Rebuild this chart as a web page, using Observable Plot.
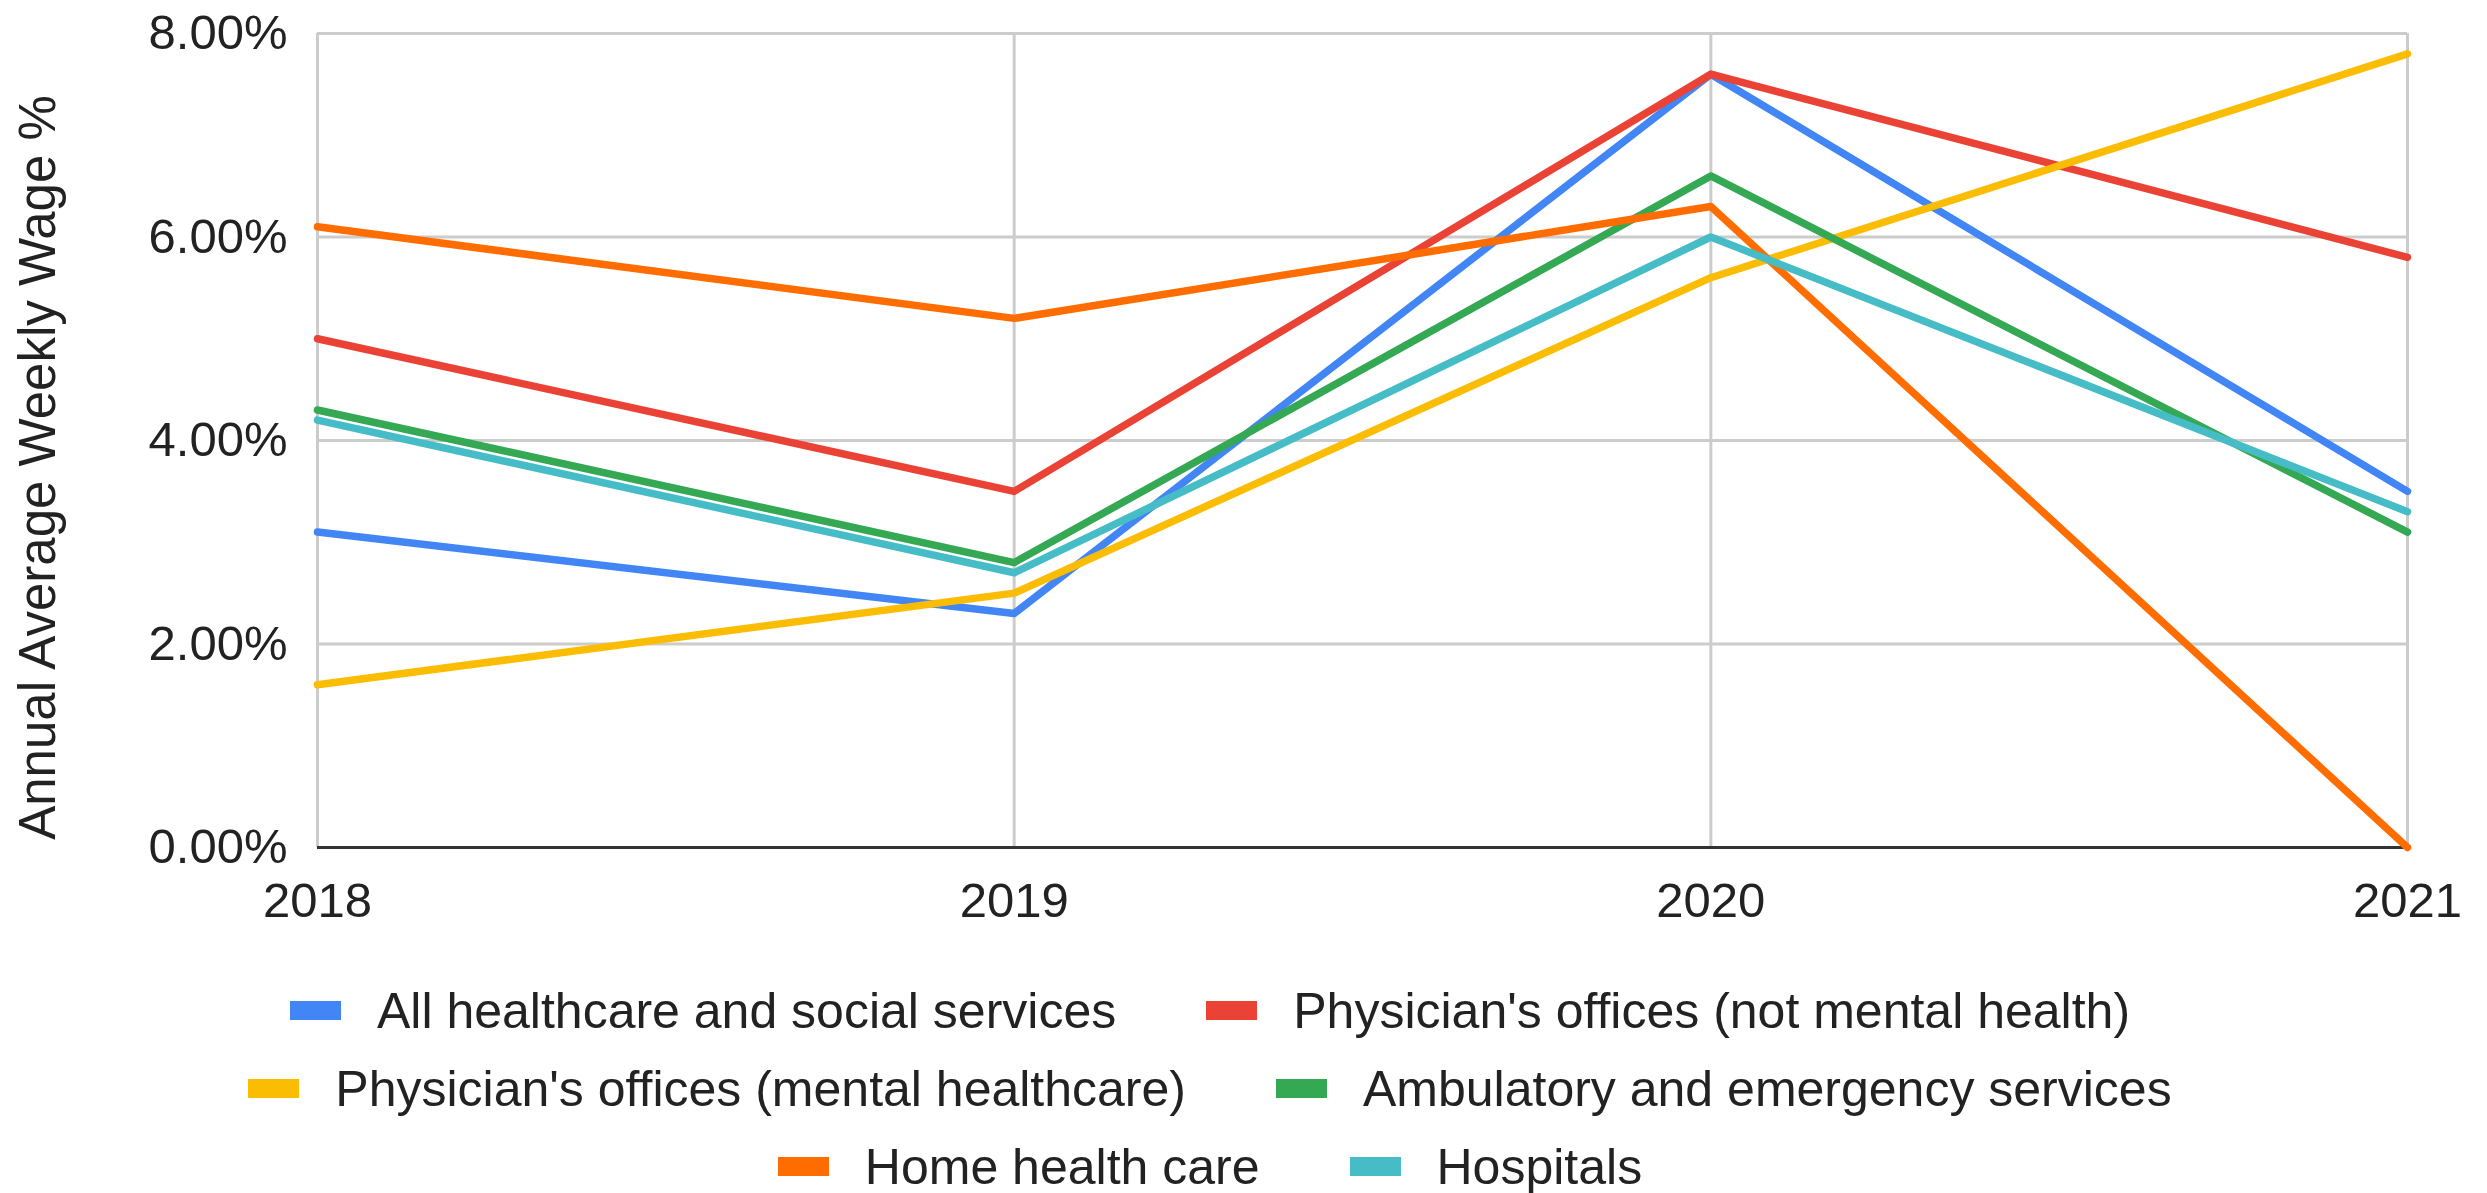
<!DOCTYPE html>
<html>
<head>
<meta charset="utf-8">
<script src="https://cdn.jsdelivr.net/npm/d3@7"></script>
<script src="https://cdn.jsdelivr.net/npm/@observablehq/plot@0.6"></script>
<style>
  html, body { margin: 0; padding: 0; background: #fff; overflow: hidden; }
  #chart { width: 2487px; }
  #chart svg { display: block; }
  .legend { width: 2420px; font-family: Arial, "Liberation Sans", sans-serif; font-size: 50px; color: #222; padding-top: 14px; }
  .legend .row { height: 78px; line-height: 78px; text-align: center; white-space: nowrap; }
  .legend .item { display: inline-flex; align-items: center; margin: 0 45px; }
  .legend .sw { display: inline-block; width: 51px; height: 19px; margin-right: 36px; }
</style>
</head>
<body>
<div id="chart"></div>
<script>
const years = [2018, 2019, 2020, 2021];
const seriesNames = [
  "All healthcare and social services",
  "Physician's offices (not mental health)",
  "Physician's offices (mental healthcare)",
  "Ambulatory and emergency services",
  "Home health care",
  "Hospitals"
];
const seriesColors = ["#4285F4", "#EA4335", "#FBBC04", "#34A853", "#FF6D01", "#46BDC6"];
const allHealthcare = [3.1, 2.3, 7.6, 3.5];
const physNotMental = [5.0, 3.5, 7.6, 5.8];
const physMental = [1.6, 2.5, 5.6, 7.8];
const ambulatory = [4.3, 2.8, 6.6, 3.1];
const homeHealth = [6.1, 5.2, 6.3, 0.0];
const hospitals = [4.2, 2.7, 6.0, 3.3];
const yTicks = [0, 2, 4, 6, 8];
const yLabel = "Annual Average Weekly Wage %";
const legendRows = [[0, 1], [2, 3], [4, 5]];

const seriesValues = [allHealthcare, physNotMental, physMental, ambulatory, homeHealth, hospitals];
const data = [];
seriesNames.forEach((name, i) => {
  years.forEach((yr, j) => data.push({series: name, year: yr, value: seriesValues[i][j]}));
});

const chart = Plot.plot({
  width: 2487,
  height: 950,
  marginLeft: 317,
  marginRight: 80,
  marginTop: 33,
  marginBottom: 103,
  style: {fontFamily: "Arial, 'Liberation Sans', sans-serif", fontSize: "49px", color: "#222", background: "#fff"},
  x: {domain: [2018, 2021]},
  y: {domain: [0, 8]},
  color: {domain: seriesNames, range: seriesColors},
  marks: [
    Plot.ruleY(yTicks.filter(d => d > 0), {stroke: "#cccccc", strokeWidth: 3}),
    Plot.ruleX(years, {stroke: "#cccccc", strokeWidth: 3}),
    Plot.ruleY([0], {stroke: "#333333", strokeWidth: 3}),
    Plot.line(data, {x: "year", y: "value", z: "series", stroke: "series", strokeWidth: 7.5}),
    Plot.axisX({ticks: years, tickFormat: d => String(d), tickSize: 0, tickPadding: 35, label: null, fontSize: 49}),
    Plot.axisY({ticks: yTicks, tickFormat: d => d.toFixed(2) + "%", tickSize: 0, tickPadding: 30, label: null, fontSize: 49}),
    Plot.text([yLabel], {text: d => d, frameAnchor: "left", textAnchor: "middle", lineAnchor: "middle", rotate: -90, dx: -279, dy: 27, fontSize: 51, fill: "#222"})
  ]
});
document.getElementById("chart").appendChild(chart);

const legend = document.createElement("div");
legend.className = "legend";
legendRows.forEach(row => {
  const r = document.createElement("div");
  r.className = "row";
  row.forEach(i => {
    const it = document.createElement("span");
    it.className = "item";
    const sw = document.createElement("span");
    sw.className = "sw";
    sw.style.background = seriesColors[i];
    it.appendChild(sw);
    it.appendChild(document.createTextNode(seriesNames[i]));
    r.appendChild(it);
  });
  legend.appendChild(r);
});
document.getElementById("chart").appendChild(legend);
</script>
</body>
</html>
